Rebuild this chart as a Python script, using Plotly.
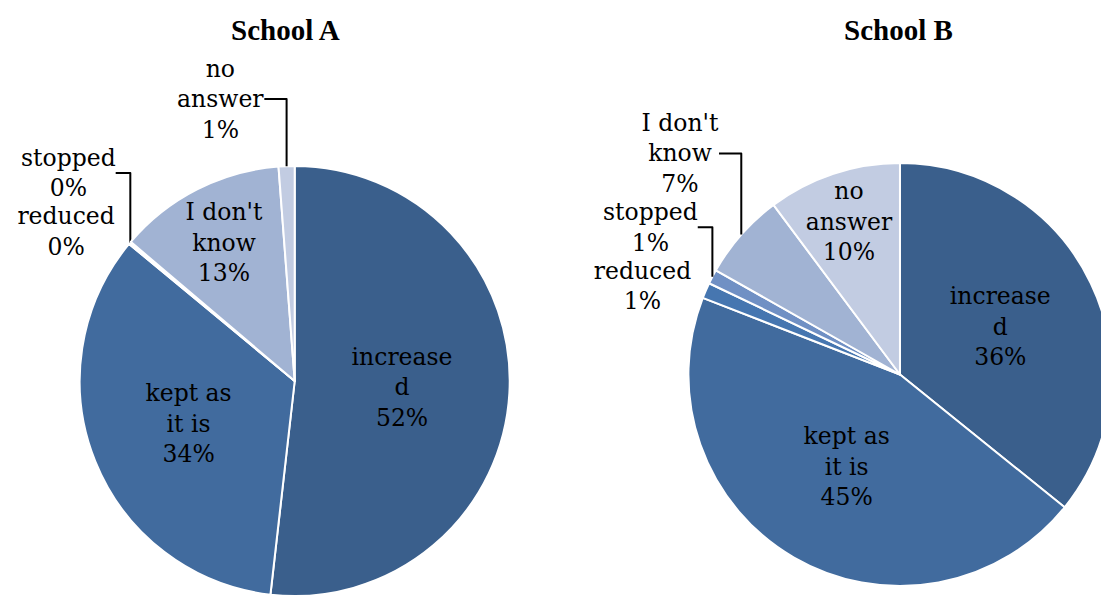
import plotly.graph_objects as go

categories = ["increased", "kept as it is", "reduced", "stopped", "I don't know", "no answer"]
display_labels = ["increase<br>d", "kept as<br>it is", "reduced", "stopped", "I don't<br>know", "no<br>answer"]
school_a = [51.8, 34.2, 0.1, 0.1, 12.6, 1.2]
school_b = [35.8, 45.1, 1.2, 1.1, 6.6, 10.2]
colors = ["#3A5F8C", "#416B9E", "#4676B0", "#7090C4", "#A1B3D3", "#C2CCE2"]
titles = ["School A", "School B"]

pos_a = ["inside", "inside", "outside", "outside", "inside", "outside"]
pos_b = ["inside", "inside", "outside", "outside", "outside", "inside"]

W, H = 1109, 599
FS = 23.5
font_lbl = dict(family="DejaVu Serif", size=FS, color="black")

fig = go.Figure()
fig.add_trace(go.Pie(
    labels=categories, values=school_a, text=display_labels,
    texttemplate="%{text}<br>%{percent:.0%}", textposition=pos_a,
    insidetextorientation="horizontal",
    sort=False, direction="clockwise", rotation=0,
    marker=dict(colors=colors, line=dict(color="white", width=2)),
    textfont=font_lbl, insidetextfont=font_lbl, outsidetextfont=font_lbl,
    domain=dict(x=[72 / W, 504 / W], y=[10 / H, 442 / H]),
    showlegend=False, hoverinfo="label+percent",
))
fig.add_trace(go.Pie(
    labels=categories, values=school_b, text=display_labels,
    texttemplate="%{text}<br>%{percent:.0%}", textposition=pos_b,
    insidetextorientation="horizontal",
    sort=False, direction="clockwise", rotation=0,
    marker=dict(colors=colors, line=dict(color="white", width=2)),
    textfont=font_lbl, insidetextfont=font_lbl, outsidetextfont=font_lbl,
    domain=dict(x=[683.5 / W, 1108.5 / W], y=[20 / H, 445 / H]),
    showlegend=False, hoverinfo="label+percent",
))

for x, t in zip([279 / W, 895 / W], titles):
    fig.add_annotation(x=x, y=1 - 22 / H, xref="paper", yref="paper",
                       text="<b>%s</b>" % t, showarrow=False,
                       font=dict(family="Liberation Serif", size=29, color="black"),
                       xanchor="center", yanchor="middle")

fig.update_layout(width=W, height=H, margin=dict(l=0, r=0, t=0, b=0),
                  paper_bgcolor="white", plot_bgcolor="white",
                  uniformtext=dict(mode="show", minsize=FS))
fig.write_html("out.html")
